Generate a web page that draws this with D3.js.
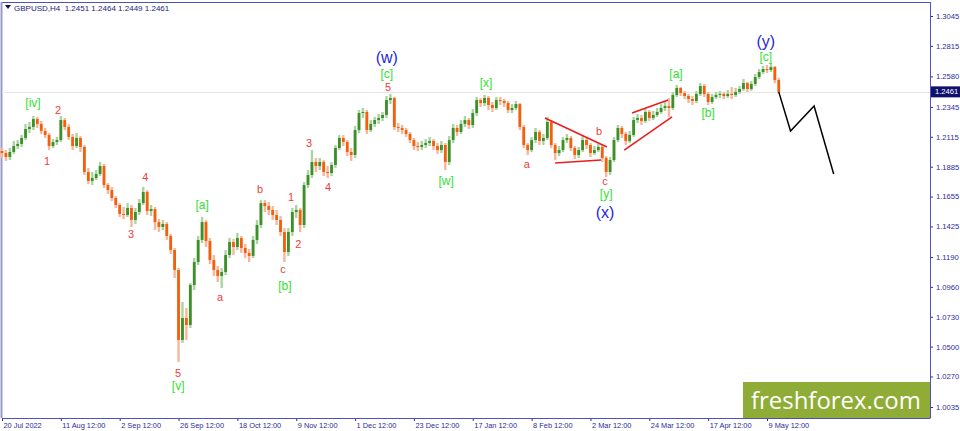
<!DOCTYPE html>
<html><head><meta charset="utf-8">
<script src="https://cdn.jsdelivr.net/npm/d3@7"></script>
<style>
html,body{margin:0;padding:0;background:#fff;}
svg{display:block;}
</style></head>
<body>
<svg id="c" width="960" height="431"></svg>
<script>
// ---------- DATA ----------
const symbolInfo = "GBPUSD,H4  1.2451 1.2464 1.2449 1.2461";
const lastPrice = 1.2461;
const firstOpen = 1.2006;
const closes = [1.1990,1.1960,1.1998,1.2044,1.2060,1.2106,1.2175,1.2191,1.2252,1.2214,
1.2160,1.2129,1.2044,1.2075,1.2090,1.2244,1.2191,1.2114,1.2044,1.2106,
1.2037,1.1844,1.1775,1.1798,1.1829,1.1890,1.1744,1.1705,1.1644,1.1590,
1.1521,1.1513,1.1567,1.1475,1.1536,1.1605,1.1690,1.1544,1.1559,1.1459,
1.1421,1.1444,1.1352,1.1244,1.1090,1.0551,1.0720,1.0666,1.0974,1.1151,
1.1321,1.1459,1.1313,1.1167,1.1090,1.1044,1.1074,1.1205,1.1305,1.1267,
1.1336,1.1259,1.1221,1.1198,1.1321,1.1436,1.1605,1.1582,1.1552,1.1513,
1.1475,1.1382,1.1228,1.1382,1.1536,1.1552,1.1436,1.1744,1.1821,1.1921,
1.1890,1.1921,1.1844,1.1836,1.1898,1.2029,1.2106,1.2075,1.1998,1.1975,
1.2167,1.2298,1.2306,1.2167,1.2214,1.2244,1.2260,1.2283,1.2398,1.2414,
1.2191,1.2183,1.2167,1.2137,1.2090,1.2044,1.2037,1.2052,1.2067,1.2083,
1.2044,1.2013,1.2052,1.1921,1.2090,1.2183,1.2152,1.2214,1.2244,1.2206,
1.2298,1.2398,1.2375,1.2414,1.2360,1.2337,1.2398,1.2391,1.2375,1.2321,
1.2337,1.2367,1.2191,1.2052,1.2013,1.2090,1.2152,1.2083,1.2106,1.2229,
1.2052,1.1990,1.2013,1.2090,1.2106,1.2029,1.1975,1.2013,1.2090,1.2052,
1.1990,1.2013,1.2037,1.1952,1.1844,1.1936,1.2090,1.2183,1.2137,1.2083,
1.2129,1.2244,1.2260,1.2237,1.2306,1.2260,1.2283,1.2306,1.2337,1.2352,
1.2337,1.2437,1.2491,1.2452,1.2429,1.2406,1.2391,1.2445,1.2506,1.2445,
1.2383,1.2421,1.2437,1.2445,1.2429,1.2445,1.2437,1.2460,1.2483,1.2529,
1.2483,1.2522,1.2575,1.2614,1.2637,1.2629,1.2652,1.2552,1.2461];
const highs = [1.2029,1.2013,1.2029,1.2083,1.2090,1.2129,1.2214,1.2229,1.2275,1.2268,
1.2237,1.2183,1.2144,1.2098,1.2114,1.2275,1.2260,1.2214,1.2137,1.2144,
1.2121,1.2052,1.1875,1.1844,1.1859,1.1921,1.1906,1.1759,1.1729,1.1659,
1.1605,1.1575,1.1605,1.1590,1.1567,1.1636,1.1729,1.1705,1.1590,1.1575,
1.1482,1.1475,1.1459,1.1367,1.1259,1.1105,1.0843,1.0797,1.0990,1.1182,
1.1352,1.1498,1.1475,1.1336,1.1205,1.1121,1.1105,1.1244,1.1336,1.1329,
1.1375,1.1352,1.1290,1.1252,1.1352,1.1475,1.1628,1.1628,1.1613,1.1582,
1.1552,1.1505,1.1413,1.1413,1.1567,1.1590,1.1567,1.1767,1.1859,1.2013,
1.1952,1.1952,1.1936,1.1890,1.1921,1.2052,1.2129,1.2129,1.2090,1.2029,
1.2198,1.2321,1.2337,1.2321,1.2244,1.2268,1.2291,1.2306,1.2429,1.2445,
1.2421,1.2221,1.2206,1.2183,1.2152,1.2106,1.2075,1.2083,1.2098,1.2114,
1.2098,1.2067,1.2083,1.2067,1.2121,1.2214,1.2206,1.2244,1.2275,1.2260,
1.2329,1.2421,1.2414,1.2437,1.2429,1.2383,1.2421,1.2421,1.2406,1.2391,
1.2367,1.2391,1.2375,1.2206,1.2067,1.2114,1.2183,1.2167,1.2137,1.2268,
1.2244,1.2067,1.2044,1.2114,1.2137,1.2121,1.2044,1.2037,1.2121,1.2106,
1.2067,1.2044,1.2060,1.2052,1.1967,1.1960,1.2114,1.2206,1.2198,1.2152,
1.2160,1.2268,1.2291,1.2283,1.2329,1.2321,1.2314,1.2337,1.2367,1.2391,
1.2414,1.2460,1.2514,1.2498,1.2468,1.2445,1.2429,1.2468,1.2529,1.2522,
1.2460,1.2445,1.2460,1.2468,1.2460,1.2475,1.2498,1.2491,1.2506,1.2560,
1.2537,1.2545,1.2599,1.2637,1.2660,1.2668,1.2683,1.2660,1.2568];
const lows = [1.1952,1.1929,1.1936,1.1983,1.2021,1.2037,1.2090,1.2144,1.2167,1.2183,
1.2137,1.2106,1.2013,1.2029,1.2052,1.2075,1.2167,1.2090,1.2013,1.2029,
1.1998,1.1821,1.1752,1.1744,1.1782,1.1813,1.1721,1.1675,1.1621,1.1567,
1.1498,1.1482,1.1498,1.1421,1.1444,1.1513,1.1590,1.1513,1.1505,1.1398,
1.1382,1.1398,1.1321,1.1213,1.1028,1.0381,1.0528,1.0551,1.0643,1.0936,
1.1128,1.1298,1.1267,1.1136,1.1044,1.0997,1.0951,1.1051,1.1182,1.1205,
1.1244,1.1221,1.1182,1.1151,1.1182,1.1290,1.1413,1.1536,1.1513,1.1475,
1.1436,1.1352,1.1151,1.1198,1.1352,1.1490,1.1382,1.1413,1.1721,1.1798,
1.1844,1.1859,1.1813,1.1798,1.1813,1.1875,1.2013,1.2044,1.1967,1.1929,
1.1952,1.2144,1.2260,1.2137,1.2152,1.2191,1.2214,1.2237,1.2260,1.2367,
1.2167,1.2152,1.2137,1.2114,1.2067,1.2013,1.2006,1.2013,1.2029,1.2044,
1.2013,1.1983,1.1990,1.1859,1.1898,1.2067,1.2121,1.2137,1.2191,1.2175,
1.2183,1.2275,1.2344,1.2352,1.2321,1.2306,1.2321,1.2360,1.2344,1.2298,
1.2298,1.2321,1.2167,1.2029,1.1975,1.1998,1.2067,1.2052,1.2052,1.2090,
1.2029,1.1936,1.1967,1.1998,1.2067,1.2006,1.1944,1.1952,1.1998,1.2021,
1.1960,1.1975,1.1998,1.1921,1.1806,1.1821,1.1921,1.2075,1.2106,1.2052,
1.2067,1.2114,1.2221,1.2206,1.2221,1.2237,1.2244,1.2268,1.2291,1.2314,
1.2268,1.2321,1.2421,1.2429,1.2406,1.2375,1.2360,1.2375,1.2429,1.2421,
1.2360,1.2367,1.2406,1.2414,1.2406,1.2414,1.2406,1.2421,1.2445,1.2468,
1.2460,1.2468,1.2506,1.2560,1.2599,1.2606,1.2614,1.2529,1.2445];

// price axis tick labels (as shown by the terminal)
const priceTicks = [1.3045,1.2815,1.2580,1.2345,1.2115,1.1885,1.1655,1.1425,1.1190,1.0960,1.0730,1.0500,1.0270,1.0035];
// time axis labels (every 15th aggregated bar)
const timeLabels = ["20 Jul 2022","11 Aug 12:00","2 Sep 12:00","26 Sep 12:00","18 Oct 12:00","9 Nov 12:00","1 Dec 12:00","23 Dec 12:00","17 Jan 12:00","8 Feb 12:00","2 Mar 12:00","24 Mar 12:00","17 Apr 12:00","9 May 12:00"];
const barsPerLabel = 15;

// forecast path (bar index, price)
const forecastIdx = [198, 201, 207, 212];
const forecastPrice = [1.2461, 1.2160, 1.2352, 1.1829];

// red trend lines: [idx1, price1, idx2, price2]
const trendLines = [
  [138.4, 1.2260, 154.2, 1.2037],
  [141.0, 1.1913, 152.7, 1.1936],
  [160.6, 1.2298, 169.8, 1.2398],
  [158.6, 1.2013, 170.8, 1.2268]
];

// wave labels: text, bar index, price, degree
const waveText  = ["[iv]","2","1","3","4","5","[v]","[a]","a","b","c","[b]","1","2","3","4","5","[c]","(w)","[w]","[x]","a","b","c","[y]","(x)","[a]","[b]","[c]","(y)"];
const waveIdx   = [7.9,14.3,11.5,32.9,36.5,44.9,44.9,51.0,55.6,65.8,71.6,72.1,73.7,75.5,78.3,83.1,98.4,98.1,98.1,113.2,123.4,133.8,152.2,153.7,154.0,153.7,171.8,180.0,194.7,194.7];
const wavePrice = [1.2375,1.2321,1.1929,1.1367,1.1806,1.0297,1.0197,1.1590,1.0882,1.1713,1.1098,1.0967,1.1652,1.1290,1.2067,1.1729,1.2498,1.2599,1.2722,1.1775,1.2529,1.1906,1.2160,1.1775,1.1675,1.1536,1.2599,1.2298,1.2729,1.2845];
const waveDeg   = ["g","r","r","r","r","r","g","g","r","r","r","g","r","r","r","r","r","g","b","g","g","r","r","r","g","b","g","g","g","b"];

// ---------- DRAW ----------
const svg = d3.select("#c");
const W = 960, H = 431;
const plotL = 2, plotR = 930, plotT = 2, plotB = 418;

const x = d3.scaleLinear().domain([0, barsPerLabel*(timeLabels.length-1)]).range([2, 767]);
const y = d3.scaleLinear().domain([1.0035, 1.3045]).range([407, 16]);

const navy = "#2b2b9a";
const axisFont = "Liberation Sans, Arial, sans-serif";

// frame
svg.append("rect").attr("x",0).attr("y",0).attr("width",W).attr("height",H).attr("fill","#fff");
svg.append("line").attr("x1",plotL).attr("x2",plotR).attr("y1",2.5).attr("y2",2.5).attr("stroke","#5050b8").attr("stroke-width",1);
svg.append("line").attr("x1",1.5).attr("x2",1.5).attr("y1",2).attr("y2",plotB).attr("stroke","#9a9ac8").attr("stroke-width",2);

// current price line
svg.append("line").attr("x1",plotL).attr("x2",plotR).attr("y1",Math.round(y(lastPrice))+0.5).attr("y2",Math.round(y(lastPrice))+0.5)
  .attr("stroke","#e6e6e6").attr("stroke-width",1);

// candles
const candles = closes.map((c,i)=>({i, o: i===0?firstOpen:closes[i-1], c, h: highs[i], l: lows[i]}));
const cg = svg.append("g");
cg.selectAll("line.w").data(candles).join("line").attr("class","w")
  .attr("x1",d=>x(d.i)).attr("x2",d=>x(d.i))
  .attr("y1",d=>y(d.h)).attr("y2",d=>y(d.l))
  .attr("stroke",d=>d.c>=d.o?"#a9d6a0":"#f8b79c").attr("stroke-width",2.4);
cg.selectAll("rect.b").data(candles).join("rect").attr("class","b")
  .attr("x",d=>x(d.i)-1.4).attr("width",2.8)
  .attr("y",d=>y(Math.max(d.o,d.c)))
  .attr("height",d=>Math.max(1, Math.abs(y(d.o)-y(d.c))))
  .attr("fill",d=>d.c>=d.o?"#3d8f2a":"#f2600e");

// trend lines
svg.append("g").selectAll("line").data(trendLines).join("line")
  .attr("x1",d=>x(d[0])).attr("y1",d=>y(d[1])).attr("x2",d=>x(d[2])).attr("y2",d=>y(d[3]))
  .attr("stroke","#ee1c1c").attr("stroke-width",1.6);

// forecast
const fData = forecastIdx.map((v,i)=>[v, forecastPrice[i]]);
svg.append("path").datum(fData)
  .attr("d", d3.line().x(d=>x(d[0])).y(d=>y(d[1])))
  .attr("fill","none").attr("stroke","#000").attr("stroke-width",1.5);

// wave labels
const degStyle = {
  r:{fill:"#f03c3c", size:11},
  g:{fill:"#33e033", size:12},
  b:{fill:"#1f1fe0", size:16}
};
svg.append("g").selectAll("text").data(waveText.map((t,i)=>({t, i:waveIdx[i], p:wavePrice[i], d:waveDeg[i]})))
  .join("text")
  .attr("x",d=>x(d.i)).attr("y",d=>y(d.p))
  .attr("text-anchor","middle").attr("dominant-baseline","central")
  .attr("font-family","Liberation Sans, Arial, sans-serif")
  .attr("font-size",d=>degStyle[d.d].size)
  .attr("fill",d=>degStyle[d.d].fill)
  .text(d=>d.t);

// watermark
svg.append("rect").attr("x",743).attr("y",382).attr("width",187).attr("height",36).attr("fill","#8fac36");
const wm = svg.append("text").attr("x",751).attr("y",409).attr("font-family","Open Sans, sans-serif").attr("font-size",28)
  .attr("fill","#fff").text("freshforex.com");
const wmW = wm.node().getComputedTextLength();
wm.attr("font-size", 28*170/wmW);

// right axis
const ra = svg.append("g").attr("transform",`translate(${plotR},0)`)
  .call(d3.axisRight(y).tickValues(priceTicks).tickSize(3).tickPadding(3).tickFormat(d3.format(".4f")));
ra.select(".domain").remove();
ra.selectAll("line").attr("stroke",navy);
ra.selectAll("text").attr("fill",navy).attr("font-family",axisFont).attr("font-size",7.6);
svg.append("line").attr("x1",plotR+0.5).attr("x2",plotR+0.5).attr("y1",2).attr("y2",plotB+0.5).attr("stroke","#5050c0");

// last price tag
const ly = y(lastPrice);
svg.append("rect").attr("x",plotR+1).attr("y",ly-5.5).attr("width",29).attr("height",11).attr("fill","#10106e");
svg.append("text").attr("x",plotR+5).attr("y",ly).attr("dominant-baseline","central")
  .attr("font-family",axisFont).attr("font-size",7.6).attr("fill","#fff").text(lastPrice.toFixed(4));

// bottom axis
const tickIdx = timeLabels.map((_,k)=>k*barsPerLabel);
const ba = svg.append("g").attr("transform",`translate(0,${plotB})`)
  .call(d3.axisBottom(x).tickValues(tickIdx).tickSize(3).tickPadding(2).tickFormat((d,k)=>timeLabels[k]));
ba.select(".domain").remove();
ba.selectAll("line").attr("stroke",navy);
ba.selectAll("text").attr("fill",navy).attr("text-anchor","start").attr("dx",1)
  .attr("font-family",axisFont).attr("font-size",7.4);
svg.append("line").attr("x1",plotL).attr("x2",plotR).attr("y1",plotB+0.5).attr("y2",plotB+0.5).attr("stroke","#5050c0");

// header
svg.append("path").attr("d","M5,5 L11,5 L8,9 Z").attr("fill","#101060");
svg.append("text").attr("x",14).attr("y",10.5).attr("font-family",axisFont).attr("font-size",8)
  .attr("fill","#23237a").attr("xml:space","preserve").text(symbolInfo);
</script>
</body></html>
